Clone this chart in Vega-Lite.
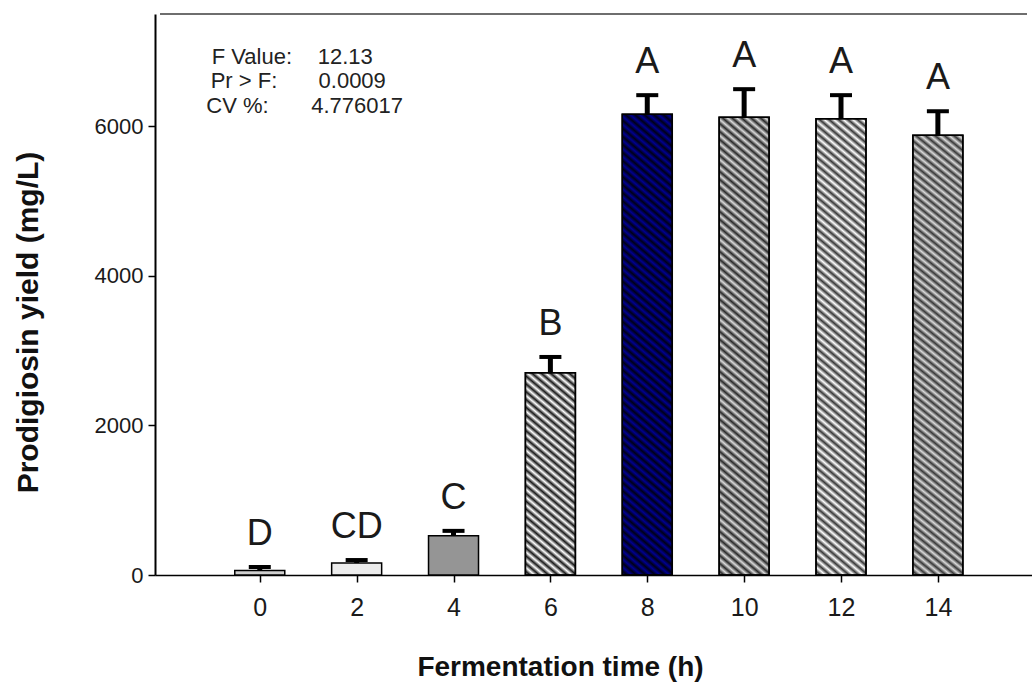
{
  "$schema": "https://vega.github.io/schema/vega-lite/v6.json",
  "width": 877,
  "height": 561,
  "autosize": {"type": "none"},
  "padding": {"left": 155, "top": 14, "right": 0, "bottom": 109},
  "background": "white",
  "config": {"view": {"stroke": null}, "font": "Liberation Sans"},
  "datasets": {
    "yields": [
      {"time": 0, "yield": 60, "upper": 107, "group": "D"},
      {"time": 2, "yield": 160, "upper": 200, "group": "CD"},
      {"time": 4, "yield": 525, "upper": 590, "group": "C"},
      {"time": 6, "yield": 2705, "upper": 2915, "group": "B"},
      {"time": 8, "yield": 6160, "upper": 6415, "group": "A"},
      {"time": 10, "yield": 6120, "upper": 6495, "group": "A"},
      {"time": 12, "yield": 6100, "upper": 6415, "group": "A"},
      {"time": 14, "yield": 5880, "upper": 6200, "group": "A"}
    ],
    "one": [{"k": 1}]
  },
  "layer": [
    {
      "data": {"name": "yields"},
      "mark": {"type": "bar", "width": 50, "stroke": "black", "strokeWidth": 1.5},
      "encoding": {
        "x": {"field": "time", "type": "quantitative",
          "scale": {"domain": [-2.06, 15.84], "nice": false, "zero": false},
          "axis": {"title": "Fermentation time (h)", "values": [0, 2, 4, 6, 8, 10, 12, 14], "grid": false,
            "domainColor": "black", "domainWidth": 1.5, "tickColor": "black", "tickWidth": 1.5, "tickSize": 7,
            "labelFontSize": 25, "labelPadding": 13, "labelColor": "#1a1a1a", "labelFont": "Liberation Sans",
            "titleFontSize": 28, "titleFontWeight": "bold", "titleColor": "#111", "titleFont": "Liberation Sans",
            "titleX": 405, "titleY": 92, "titleAlign": "center", "titleBaseline": "middle"}},
        "y": {"field": "yield", "type": "quantitative",
          "scale": {"domain": [0, 7500], "nice": false, "zero": true},
          "axis": {"title": "Prodigiosin yield (mg/L)", "values": [0, 2000, 4000, 6000], "format": "d", "grid": false,
            "domainColor": "black", "domainWidth": 2, "tickColor": "black", "tickWidth": 1.5, "tickSize": 7,
            "labelFontSize": 22, "labelPadding": 5, "labelColor": "#1a1a1a", "labelFont": "Liberation Sans",
            "titleFontSize": 30, "titleFontWeight": "bold", "titleColor": "#111", "titleFont": "Liberation Sans",
            "titleX": -127, "titleY": 308, "titleAngle": -90, "titleAlign": "center", "titleBaseline": "middle"}},
        "fill": {"field": "time", "type": "nominal", "legend": null,
          "scale": {"domain": [0, 2, 4, 6, 8, 10, 12, 14], "range": ["#cfcfcf", "#ececec", "#959595", "#ffffff", "#000090", "#dadada", "#ffffff", "#dadada"]}}
      }
    },
    {
      "data": {"name": "one"},
      "mark": {"type": "rule", "color": "#6e6e6e", "strokeWidth": 2},
      "encoding": {
        "x": {"datum": -2.06, "type": "quantitative"},
        "x2": {"datum": 15.84},
        "y": {"datum": 7500, "type": "quantitative"}
      }
    },
    {
      "data": {"name": "yields"},
      "transform": [{"filter": "datum.time >= 8"}],
      "mark": {"type": "bar", "width": 50, "stroke": "black", "strokeWidth": 1.5,
        "fill": {"gradient": "linear", "x1": 0, "y1": 1, "x2": 0.0999, "y2": -0.0829, "stops": [
          {"offset": 0, "color": "rgba(0,0,0,0)"}, {"offset": 0.008, "color": "#000"},
          {"offset": 0.016, "color": "rgba(0,0,0,0)"}, {"offset": 0.024, "color": "#000"},
          {"offset": 0.032, "color": "rgba(0,0,0,0)"}, {"offset": 0.04, "color": "#000"},
          {"offset": 0.048, "color": "rgba(0,0,0,0)"}, {"offset": 0.056, "color": "#000"},
          {"offset": 0.064, "color": "rgba(0,0,0,0)"}, {"offset": 0.072, "color": "#000"},
          {"offset": 0.08, "color": "rgba(0,0,0,0)"}, {"offset": 0.088, "color": "#000"},
          {"offset": 0.096, "color": "rgba(0,0,0,0)"}, {"offset": 0.104, "color": "#000"},
          {"offset": 0.112, "color": "rgba(0,0,0,0)"}, {"offset": 0.12, "color": "#000"},
          {"offset": 0.128, "color": "rgba(0,0,0,0)"}, {"offset": 0.136, "color": "#000"},
          {"offset": 0.144, "color": "rgba(0,0,0,0)"}, {"offset": 0.152, "color": "#000"},
          {"offset": 0.16, "color": "rgba(0,0,0,0)"}, {"offset": 0.168, "color": "#000"},
          {"offset": 0.176, "color": "rgba(0,0,0,0)"}, {"offset": 0.184, "color": "#000"},
          {"offset": 0.192, "color": "rgba(0,0,0,0)"}, {"offset": 0.2, "color": "#000"},
          {"offset": 0.208, "color": "rgba(0,0,0,0)"}, {"offset": 0.216, "color": "#000"},
          {"offset": 0.224, "color": "rgba(0,0,0,0)"}, {"offset": 0.232, "color": "#000"},
          {"offset": 0.24, "color": "rgba(0,0,0,0)"}, {"offset": 0.248, "color": "#000"},
          {"offset": 0.256, "color": "rgba(0,0,0,0)"}, {"offset": 0.264, "color": "#000"},
          {"offset": 0.272, "color": "rgba(0,0,0,0)"}, {"offset": 0.28, "color": "#000"},
          {"offset": 0.288, "color": "rgba(0,0,0,0)"}, {"offset": 0.296, "color": "#000"},
          {"offset": 0.304, "color": "rgba(0,0,0,0)"}, {"offset": 0.312, "color": "#000"},
          {"offset": 0.32, "color": "rgba(0,0,0,0)"}, {"offset": 0.328, "color": "#000"},
          {"offset": 0.336, "color": "rgba(0,0,0,0)"}, {"offset": 0.344, "color": "#000"},
          {"offset": 0.352, "color": "rgba(0,0,0,0)"}, {"offset": 0.36, "color": "#000"},
          {"offset": 0.368, "color": "rgba(0,0,0,0)"}, {"offset": 0.376, "color": "#000"},
          {"offset": 0.384, "color": "rgba(0,0,0,0)"}, {"offset": 0.392, "color": "#000"},
          {"offset": 0.4, "color": "rgba(0,0,0,0)"}, {"offset": 0.408, "color": "#000"},
          {"offset": 0.416, "color": "rgba(0,0,0,0)"}, {"offset": 0.424, "color": "#000"},
          {"offset": 0.432, "color": "rgba(0,0,0,0)"}, {"offset": 0.44, "color": "#000"},
          {"offset": 0.448, "color": "rgba(0,0,0,0)"}, {"offset": 0.456, "color": "#000"},
          {"offset": 0.464, "color": "rgba(0,0,0,0)"}, {"offset": 0.472, "color": "#000"},
          {"offset": 0.48, "color": "rgba(0,0,0,0)"}, {"offset": 0.488, "color": "#000"},
          {"offset": 0.496, "color": "rgba(0,0,0,0)"}, {"offset": 0.504, "color": "#000"},
          {"offset": 0.512, "color": "rgba(0,0,0,0)"}, {"offset": 0.52, "color": "#000"},
          {"offset": 0.528, "color": "rgba(0,0,0,0)"}, {"offset": 0.536, "color": "#000"},
          {"offset": 0.544, "color": "rgba(0,0,0,0)"}, {"offset": 0.552, "color": "#000"},
          {"offset": 0.56, "color": "rgba(0,0,0,0)"}, {"offset": 0.568, "color": "#000"},
          {"offset": 0.576, "color": "rgba(0,0,0,0)"}, {"offset": 0.584, "color": "#000"},
          {"offset": 0.592, "color": "rgba(0,0,0,0)"}, {"offset": 0.6, "color": "#000"},
          {"offset": 0.608, "color": "rgba(0,0,0,0)"}, {"offset": 0.616, "color": "#000"},
          {"offset": 0.624, "color": "rgba(0,0,0,0)"}, {"offset": 0.632, "color": "#000"},
          {"offset": 0.64, "color": "rgba(0,0,0,0)"}, {"offset": 0.648, "color": "#000"},
          {"offset": 0.656, "color": "rgba(0,0,0,0)"}, {"offset": 0.664, "color": "#000"},
          {"offset": 0.672, "color": "rgba(0,0,0,0)"}, {"offset": 0.68, "color": "#000"},
          {"offset": 0.688, "color": "rgba(0,0,0,0)"}, {"offset": 0.696, "color": "#000"},
          {"offset": 0.704, "color": "rgba(0,0,0,0)"}, {"offset": 0.712, "color": "#000"},
          {"offset": 0.72, "color": "rgba(0,0,0,0)"}, {"offset": 0.728, "color": "#000"},
          {"offset": 0.736, "color": "rgba(0,0,0,0)"}, {"offset": 0.744, "color": "#000"},
          {"offset": 0.752, "color": "rgba(0,0,0,0)"}, {"offset": 0.76, "color": "#000"},
          {"offset": 0.768, "color": "rgba(0,0,0,0)"}, {"offset": 0.776, "color": "#000"},
          {"offset": 0.784, "color": "rgba(0,0,0,0)"}, {"offset": 0.792, "color": "#000"},
          {"offset": 0.8, "color": "rgba(0,0,0,0)"}, {"offset": 0.808, "color": "#000"},
          {"offset": 0.816, "color": "rgba(0,0,0,0)"}, {"offset": 0.824, "color": "#000"},
          {"offset": 0.832, "color": "rgba(0,0,0,0)"}, {"offset": 0.84, "color": "#000"},
          {"offset": 0.848, "color": "rgba(0,0,0,0)"}, {"offset": 0.856, "color": "#000"},
          {"offset": 0.864, "color": "rgba(0,0,0,0)"}, {"offset": 0.872, "color": "#000"},
          {"offset": 0.88, "color": "rgba(0,0,0,0)"}, {"offset": 0.888, "color": "#000"},
          {"offset": 0.896, "color": "rgba(0,0,0,0)"}, {"offset": 0.904, "color": "#000"},
          {"offset": 0.912, "color": "rgba(0,0,0,0)"}, {"offset": 0.92, "color": "#000"},
          {"offset": 0.928, "color": "rgba(0,0,0,0)"}, {"offset": 0.936, "color": "#000"},
          {"offset": 0.944, "color": "rgba(0,0,0,0)"}, {"offset": 0.952, "color": "#000"},
          {"offset": 0.96, "color": "rgba(0,0,0,0)"}, {"offset": 0.968, "color": "#000"},
          {"offset": 0.976, "color": "rgba(0,0,0,0)"}, {"offset": 0.984, "color": "#000"},
          {"offset": 0.992, "color": "rgba(0,0,0,0)"}, {"offset": 1, "color": "#000"}
        ]}},
      "encoding": {
        "x": {"field": "time", "type": "quantitative"},
        "y": {"field": "yield", "type": "quantitative"},
        "fillOpacity": {"field": "time", "type": "nominal", "legend": null,
          "scale": {"domain": [8, 10, 12, 14], "range": [0.85, 0.75, 0.9, 0.75]}}
      }
    },
    {
      "data": {"name": "yields"},
      "transform": [{"filter": "datum.time == 6"}],
      "mark": {"type": "bar", "width": 50, "stroke": "black", "strokeWidth": 1.5, "fillOpacity": 0.9,
        "fill": {"gradient": "linear", "x1": 0, "y1": 1, "x2": 0.2406, "y2": -0.1579, "stops": [
          {"offset": 0, "color": "rgba(0,0,0,0)"}, {"offset": 0.016, "color": "#000"},
          {"offset": 0.032, "color": "rgba(0,0,0,0)"}, {"offset": 0.048, "color": "#000"},
          {"offset": 0.064, "color": "rgba(0,0,0,0)"}, {"offset": 0.08, "color": "#000"},
          {"offset": 0.096, "color": "rgba(0,0,0,0)"}, {"offset": 0.112, "color": "#000"},
          {"offset": 0.128, "color": "rgba(0,0,0,0)"}, {"offset": 0.144, "color": "#000"},
          {"offset": 0.16, "color": "rgba(0,0,0,0)"}, {"offset": 0.176, "color": "#000"},
          {"offset": 0.192, "color": "rgba(0,0,0,0)"}, {"offset": 0.208, "color": "#000"},
          {"offset": 0.224, "color": "rgba(0,0,0,0)"}, {"offset": 0.24, "color": "#000"},
          {"offset": 0.256, "color": "rgba(0,0,0,0)"}, {"offset": 0.272, "color": "#000"},
          {"offset": 0.288, "color": "rgba(0,0,0,0)"}, {"offset": 0.304, "color": "#000"},
          {"offset": 0.32, "color": "rgba(0,0,0,0)"}, {"offset": 0.336, "color": "#000"},
          {"offset": 0.352, "color": "rgba(0,0,0,0)"}, {"offset": 0.368, "color": "#000"},
          {"offset": 0.384, "color": "rgba(0,0,0,0)"}, {"offset": 0.4, "color": "#000"},
          {"offset": 0.416, "color": "rgba(0,0,0,0)"}, {"offset": 0.432, "color": "#000"},
          {"offset": 0.448, "color": "rgba(0,0,0,0)"}, {"offset": 0.464, "color": "#000"},
          {"offset": 0.48, "color": "rgba(0,0,0,0)"}, {"offset": 0.496, "color": "#000"},
          {"offset": 0.512, "color": "rgba(0,0,0,0)"}, {"offset": 0.528, "color": "#000"},
          {"offset": 0.544, "color": "rgba(0,0,0,0)"}, {"offset": 0.56, "color": "#000"},
          {"offset": 0.576, "color": "rgba(0,0,0,0)"}, {"offset": 0.592, "color": "#000"},
          {"offset": 0.608, "color": "rgba(0,0,0,0)"}, {"offset": 0.624, "color": "#000"},
          {"offset": 0.64, "color": "rgba(0,0,0,0)"}, {"offset": 0.656, "color": "#000"},
          {"offset": 0.672, "color": "rgba(0,0,0,0)"}, {"offset": 0.688, "color": "#000"},
          {"offset": 0.704, "color": "rgba(0,0,0,0)"}, {"offset": 0.72, "color": "#000"},
          {"offset": 0.736, "color": "rgba(0,0,0,0)"}, {"offset": 0.752, "color": "#000"},
          {"offset": 0.768, "color": "rgba(0,0,0,0)"}, {"offset": 0.784, "color": "#000"},
          {"offset": 0.8, "color": "rgba(0,0,0,0)"}, {"offset": 0.816, "color": "#000"},
          {"offset": 0.832, "color": "rgba(0,0,0,0)"}, {"offset": 0.848, "color": "#000"},
          {"offset": 0.864, "color": "rgba(0,0,0,0)"}, {"offset": 0.88, "color": "#000"},
          {"offset": 0.896, "color": "rgba(0,0,0,0)"}, {"offset": 0.912, "color": "#000"},
          {"offset": 0.928, "color": "rgba(0,0,0,0)"}, {"offset": 0.944, "color": "#000"},
          {"offset": 0.96, "color": "rgba(0,0,0,0)"}, {"offset": 0.976, "color": "#000"},
          {"offset": 0.992, "color": "rgba(0,0,0,0)"}, {"offset": 1, "color": "#000"}
        ]}},
      "encoding": {
        "x": {"field": "time", "type": "quantitative"},
        "y": {"field": "yield", "type": "quantitative"}
      }
    },
    {
      "data": {"name": "yields"},
      "mark": {"type": "rule", "color": "black", "strokeWidth": 5},
      "encoding": {
        "x": {"field": "time", "type": "quantitative"},
        "y": {"field": "yield", "type": "quantitative"},
        "y2": {"field": "upper"}
      }
    },
    {
      "data": {"name": "yields"},
      "mark": {"type": "tick", "orient": "horizontal", "color": "black", "size": 22, "thickness": 4, "opacity": 1},
      "encoding": {
        "x": {"field": "time", "type": "quantitative"},
        "y": {"field": "upper", "type": "quantitative"}
      }
    },
    {
      "data": {"name": "yields"},
      "mark": {"type": "text", "fontSize": 36, "color": "#1a1a1a", "font": "Liberation Sans", "baseline": "alphabetic", "dy": -22},
      "encoding": {
        "x": {"field": "time", "type": "quantitative"},
        "y": {"field": "upper", "type": "quantitative"},
        "text": {"field": "group"}
      }
    },
    {
      "data": {"name": "one"},
      "mark": {"type": "text", "text": "F Value:", "fontSize": 22, "color": "#222", "align": "center", "baseline": "middle"},
      "encoding": {"x": {"datum": -0.163, "type": "quantitative"}, "y": {"datum": 6925, "type": "quantitative"}}
    },
    {
      "data": {"name": "one"},
      "mark": {"type": "text", "text": "Pr > F:", "fontSize": 22, "color": "#222", "align": "center", "baseline": "middle"},
      "encoding": {"x": {"datum": -0.327, "type": "quantitative"}, "y": {"datum": 6600, "type": "quantitative"}}
    },
    {
      "data": {"name": "one"},
      "mark": {"type": "text", "text": "CV %:", "fontSize": 22, "color": "#222", "align": "center", "baseline": "middle"},
      "encoding": {"x": {"datum": -0.459, "type": "quantitative"}, "y": {"datum": 6265, "type": "quantitative"}}
    },
    {
      "data": {"name": "one"},
      "mark": {"type": "text", "text": "12.13", "fontSize": 22, "color": "#222", "align": "center", "baseline": "middle"},
      "encoding": {"x": {"datum": 1.765, "type": "quantitative"}, "y": {"datum": 6925, "type": "quantitative"}}
    },
    {
      "data": {"name": "one"},
      "mark": {"type": "text", "text": "0.0009", "fontSize": 22, "color": "#222", "align": "center", "baseline": "middle"},
      "encoding": {"x": {"datum": 1.908, "type": "quantitative"}, "y": {"datum": 6600, "type": "quantitative"}}
    },
    {
      "data": {"name": "one"},
      "mark": {"type": "text", "text": "4.776017", "fontSize": 22, "color": "#222", "align": "center", "baseline": "middle"},
      "encoding": {"x": {"datum": 2.01, "type": "quantitative"}, "y": {"datum": 6265, "type": "quantitative"}}
    }
  ]
}
